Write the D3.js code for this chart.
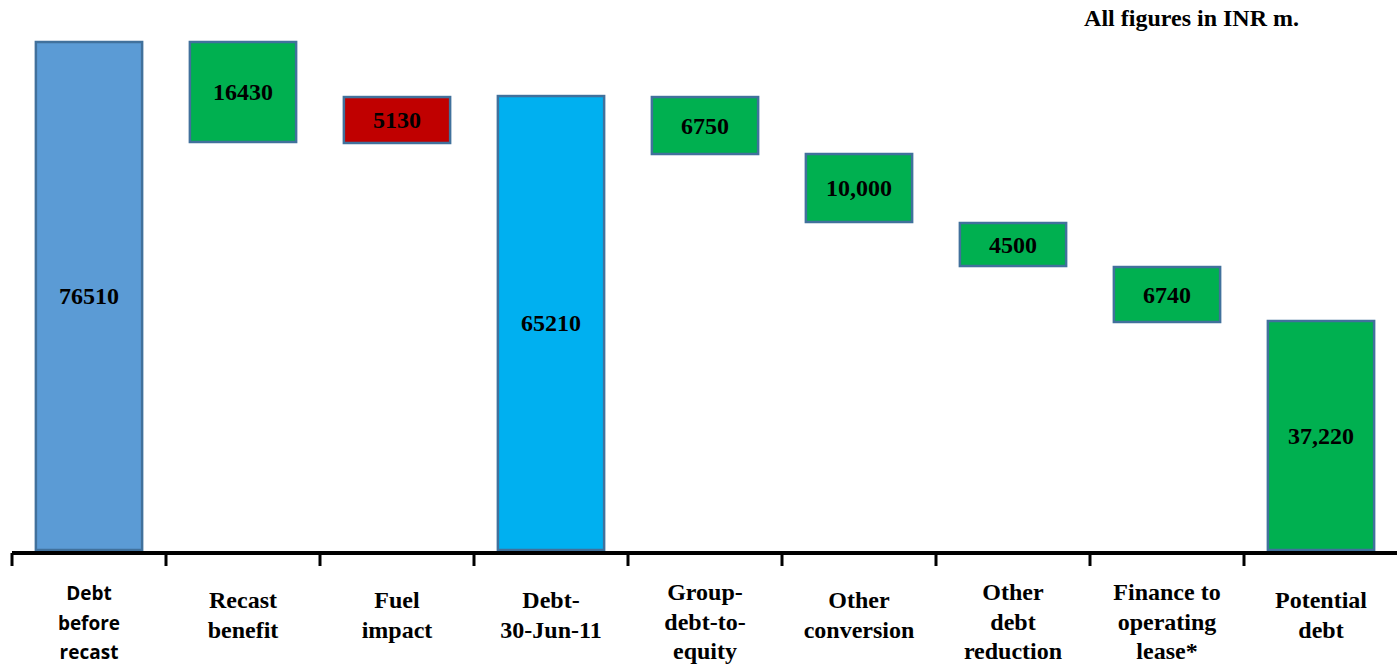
<!DOCTYPE html>
<html>
<head>
<meta charset="utf-8">
<script src="https://cdn.jsdelivr.net/npm/d3@7"></script>
<style>
  body { margin: 0; background: #fff; }
  svg { display: block; }
</style>
</head>
<body>
<div id="chart"></div>
<script>
// categories along the bottom (line breaks as in the original)
var categories = [
    "Debt\nbefore\nrecast",
    "Recast\nbenefit",
    "Fuel\nimpact",
    "Debt-\n30-Jun-11",
    "Group-\ndebt-to-\nequity",
    "Other\nconversion",
    "Other\ndebt\nreduction",
    "Finance to\noperating\nlease*",
    "Potential\ndebt"
];
// bar kind: start / up / down / subtotal / end
var kinds = ["start", "down", "up", "subtotal", "down", "down", "down", "down", "end"];
// floating bar extents (INR m), as drawn in the original
var barLow  = [0, 61450, 61300, 0, 59640, 49400, 42770, 34340, 0];
var barHigh = [76510, 76510, 68220, 68370, 68220, 59640, 49250, 42620, 34490];
// printed labels
var valueLabels = ["76510", "16430", "5130", "65210", "6750", "10,000", "4500", "6740", "37,220"];
var note = "All figures in INR m.";

var width = 1397, height = 668;
var axisY = 553;
var fills = {start: "#5B9BD5", subtotal: "#00B0F0", up: "#C00000", down: "#00B050", end: "#00B050"};
var serif = "'Liberation Serif', 'Times New Roman', serif";

var svg = d3.select("#chart").append("svg")
    .attr("width", width)
    .attr("height", height);

var x = d3.scaleBand()
    .domain(d3.range(categories.length))
    .range([12, 1398])
    .paddingInner(0.31)
    .paddingOuter(0.155);

var y = d3.scaleLinear()
    .domain([0, 76510])
    .range([550, 42]);

var bars = svg.append("g").selectAll("g")
    .data(categories)
    .enter().append("g");

bars.append("rect")
    .attr("x", function (d, i) { return x(i); })
    .attr("y", function (d, i) { return y(barHigh[i]); })
    .attr("width", x.bandwidth())
    .attr("height", function (d, i) { return y(barLow[i]) - y(barHigh[i]); })
    .attr("fill", function (d, i) { return fills[kinds[i]]; })
    .attr("stroke", "#41719C")
    .attr("stroke-width", 2.5);

bars.append("text")
    .attr("x", function (d, i) { return x(i) + x.bandwidth() / 2; })
    .attr("y", function (d, i) { return (y(barLow[i]) + y(barHigh[i])) / 2; })
    .attr("dy", "0.35em")
    .attr("text-anchor", "middle")
    .style("font-family", serif)
    .style("font-weight", "bold")
    .style("font-size", "24px")
    .text(function (d, i) { return valueLabels[i]; });

// axis: thick base line with ticks at the category boundaries
var step = x.step();
var boundaries = d3.range(categories.length).map(function (i) {
    return x(i) - (step - x.bandwidth()) / 2;
});

var axis = svg.append("g");
axis.append("line")
    .attr("x1", 12).attr("x2", width)
    .attr("y1", axisY).attr("y2", axisY)
    .attr("stroke", "#000")
    .attr("stroke-width", 4);

axis.selectAll(".tick")
    .data(boundaries)
    .enter().append("line")
    .attr("class", "tick")
    .attr("x1", function (d) { return d; })
    .attr("x2", function (d) { return d; })
    .attr("y1", axisY)
    .attr("y2", axisY + 13)
    .attr("stroke", "#000")
    .attr("stroke-width", 3);

var catLabels = axis.selectAll(".cat")
    .data(categories)
    .enter().append("text")
    .attr("class", "cat")
    .attr("text-anchor", "middle")
    .style("font-family", function (d, i) {
        return i === 0 ? "'Open Sans', 'Noto Sans', sans-serif" : serif;
    })
    .style("font-size", function (d, i) { return i === 0 ? "19px" : "24px"; })
    .style("font-weight", "bold");

catLabels.each(function (d, i) {
    var lines = d.split("\n");
    var y0 = axisY + 47 + (3 - lines.length) * 8;
    d3.select(this).selectAll("tspan")
        .data(lines)
        .enter().append("tspan")
        .attr("x", x(i) + x.bandwidth() / 2)
        .attr("y", function (l, j) { return y0 + j * 29.5; })
        .text(function (l) { return l; });
});

svg.append("text")
    .attr("x", 1299)
    .attr("y", 26)
    .attr("text-anchor", "end")
    .style("font-family", serif)
    .style("font-weight", "bold")
    .style("font-size", "24px")
    .text(note);
</script>
</body>
</html>
